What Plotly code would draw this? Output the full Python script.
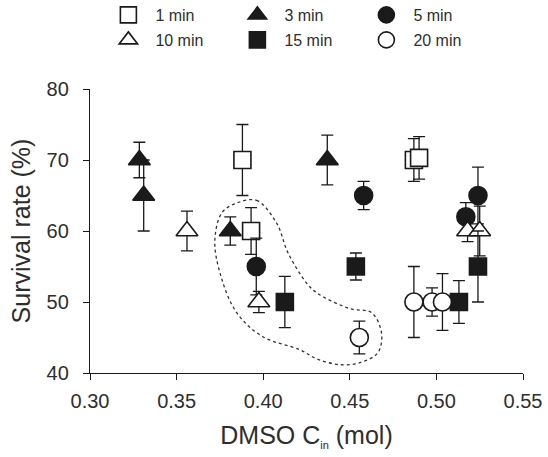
import plotly.graph_objects as go

# ---- data ----
x_1min = [0.388, 0.393, 0.487, 0.490]
y_1min = [70, 60, 70, 70.3]
e_1min = [5, 3.3, 3, 3]

x_3min = [0.3285, 0.331, 0.381, 0.437]
y_3min = [70, 65, 60, 70]
e_3min = [2.5, 5, 2, 3.5]

x_5min = [0.396, 0.458, 0.517, 0.524]
y_5min = [55, 65, 62, 65]
e_5min = [4, 2, 2, 4]

x_10min = [0.356, 0.3975, 0.518, 0.525]
y_10min = [60, 50, 60, 60]
e_10min = [2.8, 1.5, 1.5, 3.5]

x_15min = [0.4125, 0.4535, 0.513, 0.524]
y_15min = [50, 55, 50, 55]
e_15min = [3.6, 1.9, 3, 5]

x_20min = [0.4555, 0.487, 0.4975, 0.5035]
y_20min = [45, 50, 50, 50]
e_20min = [2.3, 5, 2, 4]

# dashed outline (annotation region)
outline_x = [0.3847, 0.3962, 0.4077, 0.4143, 0.4250, 0.4308, 0.4500, 0.4626, 0.4683,
             0.4662, 0.4558, 0.4443, 0.4308, 0.4212, 0.3998, 0.3847, 0.3750, 0.3721,
             0.3762, 0.3847]
outline_y = [63.94, 64.31, 61.13, 56.94, 52.68, 51.31, 49.06, 48.49, 45.68,
             42.86, 41.45, 41.17, 42.01, 43.28, 45.11, 48.49, 54.13, 58.77,
             62.58, 63.94]

x_ticks = [0.30, 0.35, 0.40, 0.45, 0.50, 0.55]
y_ticks = [40, 50, 60, 70, 80]

INK = "#1a1a1a"
TXT = "#2e2e2e"
FONT = "Liberation Sans, Arial, sans-serif"

fig = go.Figure()

fig.add_trace(go.Scatter(
    x=outline_x, y=outline_y, mode="lines",
    line=dict(color="#333333", width=1.3, dash="dot", shape="spline", smoothing=1.0),
    showlegend=False, hoverinfo="skip"))

series = [
    ("1 min", x_1min, y_1min, e_1min, "square-open", 17, "legend"),
    ("3 min", x_3min, y_3min, e_3min, "triangle-up", 19, "legend"),
    ("5 min", x_5min, y_5min, e_5min, "circle", 18, "legend"),
    ("10 min", x_10min, y_10min, e_10min, "triangle-up-open", 19, "legend2"),
    ("15 min", x_15min, y_15min, e_15min, "square", 17, "legend2"),
    ("20 min", x_20min, y_20min, e_20min, "circle-open", 18, "legend2"),
]

for name, xs, ys, es, sym, sz, lg in series:
    is_open = sym.endswith("-open")
    base = sym.replace("-open", "")
    fig.add_trace(go.Scatter(
        x=xs, y=ys, mode="markers", name=name, legend=lg,
        marker=dict(symbol=base, size=sz,
                    color="white" if is_open else INK,
                    line=dict(color=INK, width=1.6)),
        error_y=dict(type="data", array=es, visible=True, color=INK,
                     thickness=1.3, width=6),
    ))

axis_common = dict(showline=True, linecolor=INK, linewidth=1.3, ticks="outside",
                   ticklen=6, tickwidth=1.3, tickcolor=INK, showgrid=False,
                   zeroline=False, mirror=False,
                   tickfont=dict(family=FONT, size=20, color=TXT))

legend_common = dict(orientation="h", xref="container", yref="container",
                     xanchor="left", yanchor="middle",
                     itemwidth=44, entrywidth=70, entrywidthmode="pixels",
                     font=dict(family=FONT, size=16, color=TXT),
                     bgcolor="rgba(0,0,0,0)")

fig.update_layout(
    width=548, height=457,
    margin=dict(l=90, r=25, t=89, b=84, autoexpand=False),
    paper_bgcolor="white", plot_bgcolor="white",
    xaxis=dict(range=[0.30, 0.55], tickvals=x_ticks, tickformat=".2f",
               ticklabelstandoff=4,
               title=dict(text="DMSO C<sub><span style='font-size:11px'>in</span></sub> (mol)",
                          standoff=15,
                          font=dict(family=FONT, size=25, color=TXT)),
               **axis_common),
    yaxis=dict(range=[40, 80], tickvals=y_ticks, ticklabelstandoff=10,
               title=dict(text="Survival rate (%)", standoff=8,
                          font=dict(family=FONT, size=25, color=TXT)),
               **axis_common),
    legend=dict(x=0.185, y=1 - 15 / 457, **legend_common),
    legend2=dict(x=0.185, y=1 - 40 / 457, **legend_common),
)

fig.write_html("out.html")
